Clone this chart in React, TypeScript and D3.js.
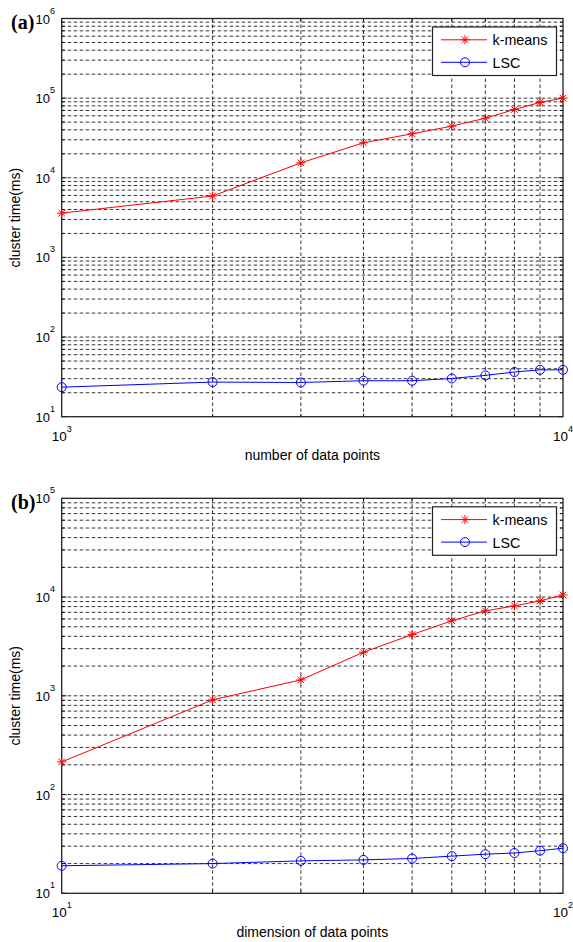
import React from 'react';
import * as d3 from 'd3';

const xA = [1000, 2000, 3000, 4000, 5000, 6000, 7000, 8000, 9000, 10000];
const kmeansA = [3600, 5900, 15400, 27500, 35700, 44500, 56000, 72000, 88500, 100000];
const lscA = [23.5, 27.2, 26.9, 28.3, 28.3, 30.2, 33, 36.4, 38.8, 38.8];

const xB = [10, 20, 30, 40, 50, 60, 70, 80, 90, 100];
const kmeansB = [214, 910, 1450, 2760, 4170, 5750, 7250, 8130, 9150, 10500];
const lscB = [19, 20, 21.3, 21.8, 22.5, 23.8, 24.9, 25.6, 27, 28.6];

const seriesNames = ['k-means', 'LSC'];
const yLabel = 'cluster time(ms)';

const FONT = 'Liberation Sans, Arial, sans-serif';
const RED = '#ff0000';
const BLUE = '#0000ff';

type PanelProps = {
  tag: string;
  top: number;
  bottom: number;
  left: number;
  right: number;
  xExp: [number, number];
  yExp: [number, number];
  xs: number[];
  k: number[];
  l: number[];
  xlabel: string;
};

function Star({ x, y, color }: { x: number; y: number; color: string }) {
  const a = 4.5;
  const b = 3.3;
  return (
    <g stroke={color} strokeWidth={1}>
      <line x1={x - a} y1={y} x2={x + a} y2={y} />
      <line x1={x} y1={y - a} x2={x} y2={y + a} />
      <line x1={x - b} y1={y - b} x2={x + b} y2={y + b} />
      <line x1={x - b} y1={y + b} x2={x + b} y2={y - b} />
    </g>
  );
}

function Panel(p: PanelProps) {
  const xScale = d3.scaleLog().domain([10 ** p.xExp[0], 10 ** p.xExp[1]]).range([p.left, p.right]);
  const yScale = d3.scaleLog().domain([10 ** p.yExp[0], 10 ** p.yExp[1]]).range([p.bottom, p.top]);

  const yGrid: number[] = [];
  for (let e = p.yExp[0]; e < p.yExp[1]; e++) {
    for (let m = 1; m <= 9; m++) yGrid.push(m * 10 ** e);
  }
  const xGrid: number[] = [];
  for (let m = 2; m <= 9; m++) xGrid.push(m * 10 ** p.xExp[0]);
  const yMajors = d3.range(p.yExp[0], p.yExp[1] + 1);
  const xMajors = [p.xExp[0], p.xExp[1]];

  const line = d3
    .line<number>()
    .x((_, i) => xScale(p.xs[i]))
    .y((d) => yScale(d));

  const legTop = p.top + 8.5;
  const legLeft = 432.5;
  const legRight = 556.5;
  const e1 = legTop + 12.8;
  const e2 = legTop + 35.3;

  return (
    <g>
      {/* grid */}
      <g stroke="#000" strokeWidth={0.8} strokeDasharray="3.5,2.5" fill="none">
        {yGrid.map((v, i) =>
          v === 10 ** p.yExp[0] ? null : (
            <line key={'gy' + i} x1={p.left} x2={p.right} y1={yScale(v)} y2={yScale(v)} />
          )
        )}
        {xGrid.map((v, i) => (
          <line key={'gx' + i} x1={xScale(v)} x2={xScale(v)} y1={p.top} y2={p.bottom} />
        ))}
      </g>
      {/* ticks */}
      <g stroke="#000" strokeWidth={0.8}>
        {yGrid.map((v, i) => {
          const len = Number.isInteger(Math.log10(v)) ? 5 : 3;
          const y = yScale(v);
          return (
            <g key={'ty' + i}>
              <line x1={p.left} x2={p.left + len} y1={y} y2={y} />
              <line x1={p.right} x2={p.right - len} y1={y} y2={y} />
            </g>
          );
        })}
        {xGrid.map((v, i) => {
          const x = xScale(v);
          return (
            <g key={'tx' + i}>
              <line x1={x} x2={x} y1={p.bottom} y2={p.bottom - 3} />
              <line x1={x} x2={x} y1={p.top} y2={p.top + 3} />
            </g>
          );
        })}
      </g>
      {/* box */}
      <rect x={p.left} y={p.top} width={p.right - p.left} height={p.bottom - p.top} fill="none" stroke="#222" strokeWidth={1.3} />
      {/* series */}
      <path d={line(p.k) || ''} fill="none" stroke={RED} strokeWidth={1} />
      {p.k.map((v, i) => (
        <Star key={'s' + i} x={xScale(p.xs[i])} y={yScale(v)} color={RED} />
      ))}
      <path d={line(p.l) || ''} fill="none" stroke={BLUE} strokeWidth={1} />
      {p.l.map((v, i) => (
        <circle key={'c' + i} cx={xScale(p.xs[i])} cy={yScale(v)} r={4.5} fill="none" stroke={BLUE} strokeWidth={1} />
      ))}
      {/* y tick labels */}
      {yMajors.map((e) => (
        <text key={'yl' + e} x={55} y={yScale(10 ** e) + 5} textAnchor="end" fontFamily={FONT} fontSize={13} fill="#000">
          10
          <tspan dy={-10} fontSize={9}>{e}</tspan>
        </text>
      ))}
      {/* x tick labels */}
      {xMajors.map((e) => (
        <text key={'xl' + e} x={xScale(10 ** e)} y={p.bottom + 24} textAnchor="middle" fontFamily={FONT} fontSize={13.5} fill="#000">
          10
          <tspan dy={-9} fontSize={9}>{e}</tspan>
        </text>
      ))}
      {/* axis labels */}
      <text x={(p.left + p.right) / 2} y={p.bottom + 43.5} textAnchor="middle" fontFamily={FONT} fontSize={14} fill="#000">
        {p.xlabel}
      </text>
      <text
        transform={`translate(20,${(p.top + p.bottom) / 2}) rotate(-90)`}
        textAnchor="middle"
        fontFamily={FONT}
        fontSize={14}
        fill="#000"
      >
        {yLabel}
      </text>
      {/* panel tag */}
      <text x={11} y={p.top + 10.5} fontFamily="Liberation Serif, Times New Roman, serif" fontWeight="bold" fontSize={20} fill="#000">
        {p.tag}
      </text>
      {/* legend */}
      <rect x={legLeft} y={legTop} width={legRight - legLeft} height={48.5} fill="#fff" stroke="#222" strokeWidth={1.2} />
      <line x1={441} x2={487} y1={e1} y2={e1} stroke={RED} strokeWidth={1} />
      <Star x={465} y={e1} color={RED} />
      <text x={492.5} y={e1 + 5.5} fontFamily={FONT} fontSize={14.3} fill="#000">
        {seriesNames[0]}
      </text>
      <line x1={441} x2={487} y1={e2} y2={e2} stroke={BLUE} strokeWidth={1} />
      <circle cx={465} cy={e2} r={4.5} fill="none" stroke={BLUE} strokeWidth={1} />
      <text x={492.5} y={e2 + 5.5} fontFamily={FONT} fontSize={14.3} fill="#000">
        {seriesNames[1]}
      </text>
    </g>
  );
}

export default function App() {
  return (
    <svg width={573} height={942} style={{ position: 'absolute', left: 0, top: 0, background: '#fff' }}>
      <rect x={0} y={0} width={573} height={942} fill="#fff" />
      <Panel
        tag="(a)"
        top={18.5}
        bottom={416.7}
        left={61.7}
        right={563}
        xExp={[3, 4]}
        yExp={[1, 6]}
        xs={xA}
        k={kmeansA}
        l={lscA}
        xlabel="number of data points"
      />
      <Panel
        tag="(b)"
        top={498.3}
        bottom={893.3}
        left={61.7}
        right={563}
        xExp={[1, 2]}
        yExp={[1, 5]}
        xs={xB}
        k={kmeansB}
        l={lscB}
        xlabel="dimension of data points"
      />
    </svg>
  );
}
